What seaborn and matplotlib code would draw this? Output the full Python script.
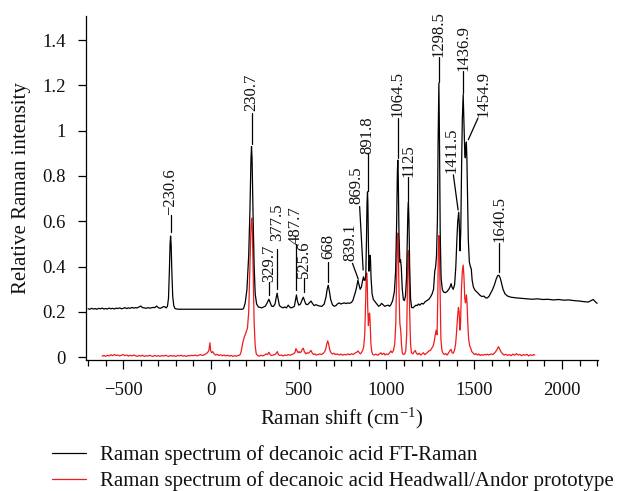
import matplotlib
matplotlib.use("Agg")
import matplotlib.pyplot as plt
from matplotlib.ticker import MultipleLocator, FixedLocator, FuncFormatter
from matplotlib.lines import Line2D
import seaborn as sns
import pandas as pd

# ---------------- data ----------------
# FT-Raman spectrum (black)
ft_shift = [-700, -690, -680, -670, -660, -650, -640, -630, -620, -610, -600, -590, -580, -570,
            -560, -550, -540, -530, -520, -510, -500, -490, -480, -470, -460, -450, -440, -430,
            -420, -410, -400, -390, -380, -370, -360, -350, -340, -330, -320, -310, -300, -290,
            -280, -270, -262, -255, -248, -242, -237, -233, -230, -227, -223, -218, -212, -205,
            -195, -185, 180, 186, 195, 205, 215, 222, 228, 231, 234, 240, 246, 252, 260, 270,
            280, 290, 300, 310, 320, 330, 338, 345, 355, 365, 372, 377, 382, 390, 400, 410, 420,
            430, 440, 448, 455, 465, 475, 482, 487, 492, 500, 510, 520, 526, 532, 540, 550, 560,
            570, 578, 588, 598, 610, 620, 632, 645, 655, 662, 668, 674, 682, 692, 702, 712, 720,
            730, 740, 750, 760, 770, 780, 790, 800, 808, 815, 822, 830, 837, 843, 850, 857, 863,
            869, 873, 878, 882, 886, 889, 891.8, 894, 897, 900, 903, 906, 909, 912, 918, 925,
            935, 945, 955, 965, 972, 980, 990, 1000, 1010, 1018, 1025, 1035, 1045, 1052, 1058,
            1062, 1064.5, 1067, 1071, 1076, 1080, 1084, 1090, 1096, 1102, 1108, 1114, 1119,
            1122, 1125, 1128, 1132, 1137, 1143, 1150, 1160, 1168, 1175, 1182, 1190, 1200, 1210,
            1220, 1230, 1240, 1250, 1260, 1268, 1275, 1280, 1285, 1290, 1294, 1298.5, 1302,
            1306, 1311, 1318, 1325, 1335, 1345, 1355, 1362, 1368, 1373, 1380, 1388, 1395, 1401,
            1406, 1411.5, 1415, 1419, 1423, 1428, 1432, 1436.9, 1441, 1446, 1449, 1452, 1454.9,
            1458, 1462, 1466, 1472, 1478, 1483, 1488, 1495, 1505, 1515, 1525, 1535, 1545, 1555,
            1565, 1575, 1585, 1595, 1605, 1615, 1625, 1633, 1640, 1648, 1656, 1664, 1675, 1690,
            1710, 1740, 1770, 1800, 1830, 1860, 1890, 1920, 1950, 1980, 2010, 2040, 2070, 2100,
            2130, 2150, 2165, 2178, 2190, 2200]
ft_intensity = [0.214, 0.212, 0.216, 0.213, 0.215, 0.212, 0.216, 0.214, 0.217, 0.213, 0.215, 0.213,
                0.217, 0.214, 0.216, 0.213, 0.217, 0.215, 0.218, 0.214, 0.216, 0.219, 0.215, 0.218,
                0.216, 0.220, 0.217, 0.219, 0.218, 0.222, 0.226, 0.219, 0.218, 0.216, 0.219, 0.217,
                0.218, 0.220, 0.219, 0.226, 0.219, 0.216, 0.219, 0.224, 0.222, 0.218, 0.225, 0.260,
                0.380, 0.500, 0.535, 0.500, 0.380, 0.270, 0.228, 0.215, 0.213, 0.212, 0.212, 0.216,
                0.240, 0.300, 0.450, 0.650, 0.880, 0.930, 0.880, 0.620, 0.400, 0.280, 0.235, 0.222,
                0.220, 0.218, 0.222, 0.226, 0.240, 0.256, 0.240, 0.226, 0.224, 0.235, 0.265, 0.283,
                0.260, 0.228, 0.222, 0.218, 0.222, 0.218, 0.230, 0.222, 0.218, 0.220, 0.225, 0.255,
                0.275, 0.250, 0.230, 0.235, 0.255, 0.265, 0.252, 0.235, 0.232, 0.240, 0.248, 0.238,
                0.228, 0.232, 0.228, 0.226, 0.225, 0.235, 0.265, 0.300, 0.318, 0.295, 0.255, 0.232,
                0.225, 0.228, 0.235, 0.240, 0.235, 0.238, 0.240, 0.237, 0.240, 0.238, 0.242, 0.250,
                0.268, 0.285, 0.310, 0.340, 0.322, 0.300, 0.310, 0.335, 0.355, 0.340, 0.340, 0.360,
                0.520, 0.680, 0.730, 0.680, 0.500, 0.380, 0.420, 0.450, 0.430, 0.350, 0.280, 0.255,
                0.245, 0.235, 0.225, 0.230, 0.238, 0.232, 0.225, 0.228, 0.230, 0.225, 0.232, 0.250,
                0.290, 0.380, 0.600, 0.820, 0.870, 0.800, 0.550, 0.420, 0.430, 0.400, 0.300, 0.255,
                0.250, 0.270, 0.350, 0.550, 0.650, 0.685, 0.600, 0.400, 0.260, 0.220, 0.218, 0.225,
                0.230, 0.228, 0.235, 0.230, 0.238, 0.235, 0.245, 0.250, 0.255, 0.265, 0.280, 0.300,
                0.380, 0.400, 0.450, 0.600, 0.950, 1.210, 0.950, 0.550, 0.350, 0.300, 0.288, 0.285,
                0.290, 0.300, 0.310, 0.325, 0.310, 0.300, 0.320, 0.400, 0.520, 0.600, 0.640, 0.580,
                0.470, 0.550, 0.850, 1.050, 1.160, 1.050, 0.900, 0.880, 0.920, 0.950, 0.880, 0.700,
                0.520, 0.420, 0.400, 0.390, 0.340, 0.310, 0.295, 0.288, 0.280, 0.272, 0.268, 0.270,
                0.262, 0.262, 0.270, 0.285, 0.300, 0.320, 0.345, 0.360, 0.362, 0.350, 0.325, 0.300,
                0.280, 0.270, 0.265, 0.262, 0.260, 0.258, 0.256, 0.258, 0.255, 0.256, 0.253, 0.255,
                0.252, 0.253, 0.250, 0.248, 0.245, 0.244, 0.250, 0.255, 0.245, 0.238]

# Headwall/Andor prototype spectrum (red)
hw_shift = [-620, -610, -600, -590, -580, -570, -560, -550, -540, -530, -520, -510, -500, -490,
            -480, -470, -460, -450, -440, -430, -420, -410, -400, -390, -380, -370, -360, -350,
            -340, -330, -320, -310, -300, -290, -280, -270, -260, -250, -240, -230, -220, -210,
            -200, -190, -180, -170, -160, -150, -140, -130, -120, -110, -100, -90, -80, -70, -60,
            -50, -40, -30, -20, -12, -6, -2, 4, 10, 18, 26, 35, 45, 55, 65, 75, 85, 95, 105, 115,
            125, 135, 145, 155, 165, 172, 180, 190, 200, 208, 215, 222, 228, 232, 236, 241, 246,
            252, 258, 266, 275, 285, 295, 305, 315, 322, 330, 337, 345, 355, 365, 372, 378, 384,
            392, 400, 410, 420, 430, 440, 450, 460, 470, 478, 484, 490, 496, 502, 508, 515, 520,
            526, 532, 540, 548, 556, 564, 570, 576, 584, 592, 600, 610, 620, 630, 640, 648, 655,
            660, 665, 670, 676, 684, 692, 700, 710, 720, 730, 740, 750, 760, 770, 780, 790, 800,
            810, 820, 830, 838, 845, 852, 858, 864, 870, 876, 880, 884, 887, 890, 893, 897, 901,
            904, 907, 911, 916, 922, 930, 940, 950, 960, 968, 975, 985, 992, 1000, 1010, 1018,
            1025, 1032, 1040, 1047, 1053, 1058, 1062, 1064.5, 1067, 1071, 1076, 1081, 1085, 1090,
            1096, 1104, 1110, 1115, 1119, 1122, 1125, 1128, 1132, 1137, 1142, 1150, 1158, 1164,
            1170, 1178, 1186, 1194, 1202, 1210, 1218, 1226, 1234, 1242, 1250, 1258, 1266, 1272,
            1278, 1283, 1288, 1292, 1295, 1298.5, 1302, 1306, 1310, 1316, 1322, 1330, 1338, 1346,
            1354, 1362, 1368, 1374, 1380, 1387, 1394, 1400, 1405, 1410, 1414, 1418, 1422, 1427,
            1432, 1436.9, 1441, 1446, 1450, 1455, 1459, 1463, 1468, 1474, 1480, 1486, 1494, 1502,
            1510, 1518, 1526, 1534, 1542, 1550, 1558, 1566, 1574, 1582, 1590, 1598, 1606, 1614,
            1622, 1630, 1638, 1646, 1654, 1662, 1670, 1680, 1690, 1700, 1710, 1720, 1730, 1740,
            1750, 1760, 1770, 1780, 1790, 1800, 1810, 1820, 1830, 1840, 1845]
hw_intensity = [0.005, 0.008, 0.004, 0.009, 0.006, 0.011, 0.007, 0.012, 0.008, 0.010, 0.006, 0.009,
                0.012, 0.007, 0.010, 0.005, 0.009, 0.006, 0.010, 0.007, 0.004, 0.008, 0.005, 0.009,
                0.004, 0.007, 0.005, 0.009, 0.006, 0.004, 0.008, 0.005, 0.007, 0.004, 0.008, 0.005,
                0.009, 0.006, 0.004, 0.008, 0.005, 0.007, 0.004, 0.008, 0.006, 0.009, 0.005, 0.007,
                0.004, 0.008, 0.006, 0.009, 0.007, 0.010, 0.006, 0.009, 0.012, 0.008, 0.010, 0.015,
                0.020, 0.030, 0.064, 0.030, 0.020, 0.025, 0.015, 0.010, 0.013, 0.008, 0.011, 0.007,
                0.010, 0.006, 0.009, 0.005, 0.008, 0.004, 0.007, 0.005, 0.008, 0.010, 0.025, 0.060,
                0.090, 0.110, 0.130, 0.200, 0.400, 0.580, 0.614, 0.550, 0.350, 0.150, 0.050, 0.015,
                0.008, 0.005, 0.009, 0.006, 0.010, 0.015, 0.012, 0.022, 0.012, 0.008, 0.010, 0.012,
                0.018, 0.025, 0.012, 0.008, 0.010, 0.006, 0.010, 0.008, 0.012, 0.009, 0.012, 0.015,
                0.020, 0.038, 0.030, 0.020, 0.025, 0.020, 0.025, 0.035, 0.040, 0.025, 0.015, 0.020,
                0.018, 0.025, 0.030, 0.020, 0.012, 0.015, 0.010, 0.012, 0.015, 0.012, 0.018, 0.025,
                0.040, 0.060, 0.072, 0.060, 0.035, 0.020, 0.014, 0.018, 0.012, 0.015, 0.010, 0.014,
                0.009, 0.013, 0.010, 0.015, 0.011, 0.016, 0.012, 0.018, 0.022, 0.028, 0.020, 0.015,
                0.022, 0.030, 0.045, 0.100, 0.220, 0.330, 0.372, 0.340, 0.220, 0.140, 0.190, 0.195,
                0.150, 0.060, 0.025, 0.012, 0.010, 0.014, 0.009, 0.015, 0.020, 0.012, 0.018, 0.010,
                0.015, 0.012, 0.020, 0.028, 0.020, 0.030, 0.060, 0.150, 0.350, 0.520, 0.548, 0.500,
                0.300, 0.150, 0.120, 0.060, 0.020, 0.012, 0.015, 0.030, 0.100, 0.300, 0.450, 0.470,
                0.400, 0.200, 0.060, 0.020, 0.015, 0.025, 0.030, 0.018, 0.012, 0.018, 0.010, 0.014,
                0.020, 0.012, 0.016, 0.022, 0.028, 0.030, 0.040, 0.050, 0.070, 0.100, 0.120, 0.100,
                0.250, 0.450, 0.537, 0.450, 0.250, 0.080, 0.030, 0.018, 0.012, 0.016, 0.010, 0.020,
                0.030, 0.035, 0.020, 0.018, 0.030, 0.060, 0.120, 0.180, 0.220, 0.200, 0.120, 0.150,
                0.300, 0.380, 0.407, 0.360, 0.260, 0.240, 0.275, 0.240, 0.150, 0.080, 0.050, 0.040,
                0.025, 0.018, 0.012, 0.016, 0.010, 0.014, 0.008, 0.012, 0.009, 0.013, 0.010, 0.014,
                0.010, 0.012, 0.015, 0.012, 0.018, 0.025, 0.035, 0.047, 0.035, 0.022, 0.015, 0.010,
                0.013, 0.008, 0.012, 0.007, 0.014, 0.009, 0.016, 0.010, 0.013, 0.007, 0.012, 0.009,
                0.013, 0.006, 0.011, 0.008, 0.012, 0.010]

# peak annotations
peak_labels = ["\u2212230.6", "230.7", "329.7", "377.5", "487.7", "525.6", "668", "839.1",
               "869.5", "891.8", "1064.5", "1125", "1298.5", "1411.5", "1436.9", "1454.9", "1640.5"]
series_labels = ["Raman spectrum of decanoic acid FT-Raman",
                 "Raman spectrum of decanoic acid Headwall/Andor prototype"]
x_ticks = [-500, 0, 500, 1000, 1500, 2000]
y_ticks = [0, 0.2, 0.4, 0.6, 0.8, 1.0, 1.2, 1.4]

# ---------------- layout of the annotations (leader line x0,y0 -> x1,y1 ; text x, bottom y) ----
ann_layout = [
    (-230, 0.555, -230, 0.63, -230, 0.63),
    (232, 0.94, 232, 1.08, 232, 1.085),
    (330, 0.275, 330, 0.33, 330, 0.33),
    (375, 0.30, 375, 0.48, 375, 0.515),
    (484, 0.297, 484, 0.50, 484, 0.50),
    (528, 0.29, 528, 0.35, 528, 0.35),
    (668, 0.33, 668, 0.42, 668, 0.435),
    (839, 0.345, 806, 0.415, 797, 0.425),
    (867, 0.385, 847, 0.665, 827, 0.675),
    (892, 0.735, 892, 0.895, 892, 0.895),
    (1063, 0.88, 1063, 1.055, 1063, 1.06),
    (1125, 0.69, 1125, 0.795, 1125, 0.795),
    (1298, 1.215, 1298, 1.325, 1296, 1.325),
    (1408, 0.65, 1381, 0.805, 1372, 0.815),
    (1437, 1.165, 1437, 1.265, 1437, 1.265),
    (1466, 0.96, 1521, 1.055, 1555, 1.06),
    (1642, 0.375, 1642, 0.505, 1644, 0.51),
]

# ---------------- figure ----------------
sns.set_theme(style="ticks")
plt.rcParams["font.family"] = ["Liberation Serif", "DejaVu Serif"]
plt.rcParams["mathtext.fontset"] = "custom"
plt.rcParams["mathtext.rm"] = "Liberation Serif"
plt.rcParams["mathtext.it"] = "Liberation Serif:italic"
plt.rcParams["axes.unicode_minus"] = True

fig = plt.figure(figsize=(6.28, 4.91), dpi=100)
ax = fig.add_axes([86 / 628, 131 / 491, 512 / 628, 344 / 491])

df_ft = pd.DataFrame({"shift": ft_shift, "intensity": ft_intensity})
df_hw = pd.DataFrame({"shift": hw_shift, "intensity": hw_intensity})
sns.lineplot(data=df_ft, x="shift", y="intensity", ax=ax, color="black", lw=0.9,
             estimator=None, sort=False, zorder=3)
sns.lineplot(data=df_hw, x="shift", y="intensity", ax=ax, color="#ee1c1c", lw=0.9,
             estimator=None, sort=False, zorder=2)

for lab, (x0, y0, x1, y1, tx, ty) in zip(peak_labels, ann_layout):
    ax.plot([x0, x1], [y0, y1], color="black", lw=0.9, clip_on=False, zorder=4)
    ax.text(tx, ty, lab, rotation=90, ha="center", va="bottom", fontsize=12,
            color="#111111", clip_on=False)

ax.set_xlim(-712, 2205)
ax.set_ylim(-0.012, 1.506)
ax.xaxis.set_major_locator(FixedLocator(x_ticks))
ax.xaxis.set_minor_locator(MultipleLocator(100))
ax.yaxis.set_major_locator(FixedLocator(y_ticks))
ax.yaxis.set_major_formatter(FuncFormatter(lambda v, p: f"{v:g}"))
ax.xaxis.set_major_formatter(FuncFormatter(lambda v, p: f"{v:g}".replace("-", "\u2212")))

sns.despine(ax=ax)
for s in ["left", "bottom"]:
    ax.spines[s].set_linewidth(0.9)
    ax.spines[s].set_color("black")
ax.tick_params(axis="x", which="major", length=6.5, width=0.9, color="black",
               labelsize=13.5, pad=9, labelcolor="#111111")
ax.tick_params(axis="x", which="minor", length=4.3, width=0.9, color="black")
ax.tick_params(axis="y", which="major", length=5.5, width=0.9, color="black",
               labelsize=13.5, pad=9, labelcolor="#111111")

ax.set_xlabel("Raman shift (cm$^{\u22121}$)", fontsize=15, color="#111111", labelpad=5.5)
ax.set_ylabel("Relative Raman intensity", fontsize=15, color="#111111", labelpad=8)

handles = [Line2D([], [], color="black", lw=0.9), Line2D([], [], color="#ee1c1c", lw=0.9)]
fig.legend(handles, series_labels, loc="upper left", bbox_to_anchor=(44 / 628, 1 - 437 / 491),
           frameon=False, fontsize=15, handlelength=1.63, handletextpad=0.67,
           labelspacing=0.3, borderaxespad=0, labelcolor="#111111")

fig.savefig("out.png", dpi=100)
